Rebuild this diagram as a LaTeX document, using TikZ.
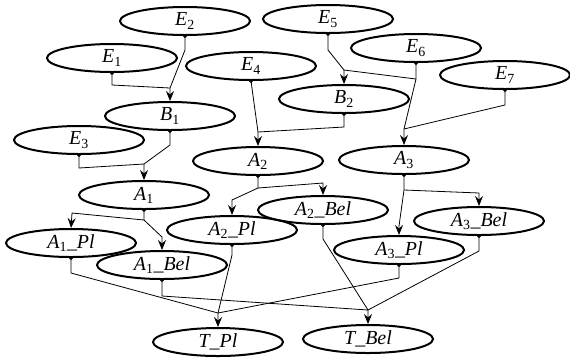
\documentclass[tikz,border=0pt]{standalone}
\usepackage{fontspec}
\setmainfont{Liberation Serif}
\usetikzlibrary{shapes.geometric,arrows.meta}
\newcommand\lbl[3]{\textit{#1}\textsubscript{#2}\textit{#3}}
\begin{document}
\begin{tikzpicture}[x=1bp,y=-1bp,
  state/.style={ellipse,draw,line width=2bp,minimum width=130bp,minimum height=28bp,
    inner sep=0pt,font=\fontsize{20}{22}\selectfont},
  tip/.tip={Stealth[length=10bp,width=8bp,inset=3.5bp]},
  conn/.style={line width=0.8bp,{Circle[length=3.5bp]}-tip,shorten <=-1.5bp},
  feed/.style={line width=0.8bp,{Circle[length=3.5bp]}-,shorten <=-1.5bp},
  split/.style={line width=0.8bp,-tip}]
\useasboundingbox (0,0) rectangle (570,357);

% event nodes
\node[state] (e2) at (185,21) {\lbl{E}{2}{}};
\node[state] (e1) at (112,58) {\lbl{E}{1}{}};
\node[state] (e4) at (251,66) {\lbl{E}{4}{}};
\node[state] (e3) at (79,140) {\lbl{E}{3}{}};
\node[state] (e5) at (328,19) {\lbl{E}{5}{}};
\node[state] (e6) at (416,48) {\lbl{E}{6}{}};
\node[state] (e7) at (505,75) {\lbl{E}{7}{}};
% intermediate nodes
\node[state] (b1) at (170,116) {\lbl{B}{1}{}};
\node[state] (b2) at (344,99) {\lbl{B}{2}{}};
\node[state] (a1) at (144,195) {\lbl{A}{1}{}};
\node[state] (a2) at (258,161) {\lbl{A}{2}{}};
\node[state] (a3) at (404,160) {\lbl{A}{3}{}};
\node[state] (a1pl) at (71,243) {\lbl{A}{1}{\_Pl}};
\node[state] (a1bel) at (162,265) {\lbl{A}{1}{\_Bel}};
\node[state] (a2pl) at (232,230) {\lbl{A}{2}{\_Pl}};
\node[state] (a2bel) at (323,210) {\lbl{A}{2}{\_Bel}};
\node[state] (a3pl) at (399,250) {\lbl{A}{3}{\_Pl}};
\node[state] (a3bel) at (479,221) {\lbl{A}{3}{\_Bel}};
% top nodes
\node[state] (tpl) at (218,342) {\textit{T\_Pl}};
\node[state] (tbel) at (368,339) {\textit{T\_Bel}};

% junction points
\coordinate (jb1) at (170,88);
\coordinate (ja1) at (144,164);
\coordinate (jb2) at (344,70);
\coordinate (ja3) at (404,129);
\coordinate (ja2) at (258,132);
\coordinate (jtp) at (218,313);
\coordinate (jtb) at (368,310);

% into B1
\draw[conn] (e2.south) -- ++(0,14) -- (jb1) -- (b1.north);
\draw[feed] (e1.south) -- ++(0,12) -- (jb1);
% into A1
\draw[conn] (b1.south) -- ++(0,14) -- (ja1) -- (a1.north);
\draw[feed] (e3.south) -- ++(0,13) -- (ja1);
% into B2 and A3
\draw[conn] (e5.south) -- ++(0,16) -- (jb2) -- (b2.north);
\draw[conn] (e6.south) -- ++(0,16) coordinate (k6) -- (ja3) -- (a3.north);
\draw[line width=0.8bp] (k6) -- (jb2);
\draw[feed] (e7.south) -- ++(0,15) -- (ja3);
% into A2
\draw[conn] (e4.south) -- (ja2) -- (a2.north);
\draw[feed] (b2.south) -- ++(0,13) -- (ja2);
% splits of A1, A2, A3
\draw[conn] (a1.south) -- ++(0,10) coordinate (k1) -- (72,213) -- (a1pl.north);
\draw[split] (k1) -- (162,237) -- (a1bel.north);
\draw[conn] (a2.south) -- ++(0,12) coordinate (k2) -- (232,200) -- (a2pl.north);
\draw[split] (k2) -- (323,183) -- (a2bel.north);
\draw[conn] (a3.south) -- ++(0,15) coordinate (k3) -- (399,226) -- (a3pl.north);
\draw[split] (k3) -- (479,193) -- (a3bel.north);
% into T_Pl
\draw[conn] (a1pl.south) -- ++(0,15) -- (jtp) -- (tpl.north);
\draw[feed] (a2pl.south) -- ++(0,10) -- (jtp);
\draw[feed] (a3pl.south) -- ++(0,13) -- (jtp);
% into T_Bel
\draw[conn] (a1bel.south) -- ++(0,16) -- (jtb) -- (tbel.north);
\draw[feed] (a2bel.south) -- ++(0,14) -- (jtb);
\draw[feed] (a3bel.south) -- ++(0,15) -- (jtb);
\end{tikzpicture}
\end{document}
